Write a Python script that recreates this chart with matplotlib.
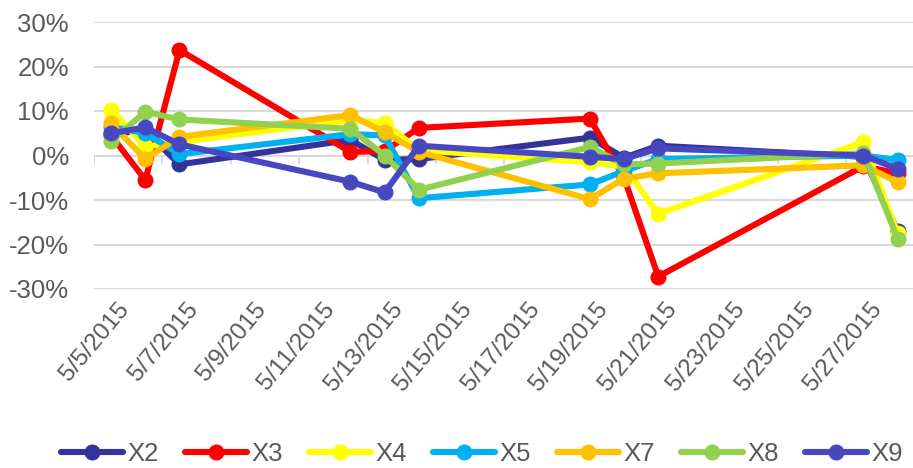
import matplotlib
matplotlib.use("Agg")
import matplotlib.pyplot as plt
import matplotlib.dates as mdates
import matplotlib.transforms as mtransforms
import pandas as pd
import numpy as np

plt.rcParams['font.family'] = ['Liberation Sans', 'DejaVu Sans']

dates = ["2015-05-05", "2015-05-06", "2015-05-07", "2015-05-12", "2015-05-13",
         "2015-05-14", "2015-05-19", "2015-05-20", "2015-05-21", "2015-05-27", "2015-05-28"]

X2 = [5.0, 5.5, -2.0, 3.5, -1.0, -0.8, 4.0, -0.5, 2.2, -0.3, -17.0]
X3 = [4.5, -5.5, 23.7, 0.8, 1.0, 6.2, 8.3, -5.0, -27.2, -2.4, -4.0]
X4 = [10.3, 2.0, 3.0, 8.0, 7.3, 1.2, -1.5, -2.5, -13.1, 3.0, -17.5]
X5 = [6.5, 5.0, 0.3, 4.8, 4.5, -9.6, -6.5, -3.5, -0.8, 0.0, -1.0]
X7 = [7.2, -0.8, 4.2, 9.1, 5.2, 0.8, -9.8, -5.2, -4.0, -2.2, -6.0]
X8 = [3.2, 9.8, 8.1, 6.0, 0.0, -7.7, 1.9, -2.0, -1.8, 0.5, -18.7]
X9 = [5.0, 6.3, 2.5, -5.9, -8.3, 2.2, -0.3, -0.8, 1.6, 0.0, -3.0]

series_names = ["X2", "X3", "X4", "X5", "X7", "X8", "X9"]
series_values = [X2, X3, X4, X5, X7, X8, X9]
series_colors = ["#333399", "#FF0000", "#FFFF00", "#00B0F0", "#FFC000", "#92D050", "#4747C2"]

y_ticks = [-30, -20, -10, 0, 10, 20, 30]

x = mdates.date2num(pd.to_datetime(dates))
label_dates = pd.date_range("2015-05-05", "2015-05-27", freq="2D")
label_pos = mdates.date2num(label_dates)
tick_labels = [f"{d.month}/{d.day}/{d.year}" for d in label_dates]

W, H = 913, 468
fig = plt.figure(figsize=(W / 100, H / 100), dpi=100)
left, right, top, bottom = 94, 913, 22, 289
ax = fig.add_axes([left / W, 1 - bottom / H, (right - left) / W, (bottom - top) / H])

text_color = "#595959"
grid_color = "#D9D9D9"
fs = 18.5

for name, vals, col in zip(series_names, series_values, series_colors):
    ax.plot(x, vals, color=col, lw=4.4, marker='o', ms=10.5, label=name,
            solid_joinstyle='round', solid_capstyle='round', zorder=3)

ax.set_xlim(x[0] - 0.5, x[-1] + 0.45)
ax.set_ylim(-30, 30)
ax.set_yticks(y_ticks)
ax.set_yticklabels([f"{v}%" for v in y_ticks])
ax.yaxis.grid(True, color=grid_color, lw=1.5, zorder=0)
ax.set_axisbelow(True)
for s in ax.spines.values():
    s.set_visible(False)

# horizontal axis tick marks on the 0% line
tick_marks = label_pos - 0.5
ax.vlines(tick_marks, -1.8, 0, color=grid_color, lw=1.4, zorder=1)

ax.tick_params(axis='y', length=0, pad=18, labelsize=fs, labelcolor=text_color)
ax.set_xticks(label_pos)
ax.set_xticklabels(tick_labels)
ax.tick_params(axis='x', length=0, pad=7, labelsize=17.5, labelcolor=text_color)
offset = mtransforms.ScaledTranslation(6 / 100, 0, fig.dpi_scale_trans)
for lab in ax.get_xticklabels():
    lab.set_rotation(50)
    lab.set_ha('right')
    lab.set_va('top')
    lab.set_rotation_mode('anchor')
    lab.set_transform(lab.get_transform() + offset)

leg = fig.legend(loc='center', bbox_to_anchor=(0.528, 0.03), ncol=7, frameon=False,
                 fontsize=fs, handlelength=2.4, handletextpad=0.2, columnspacing=1.0)
for t in leg.get_texts():
    t.set_color(text_color)

fig.savefig("out.png", dpi=100)
